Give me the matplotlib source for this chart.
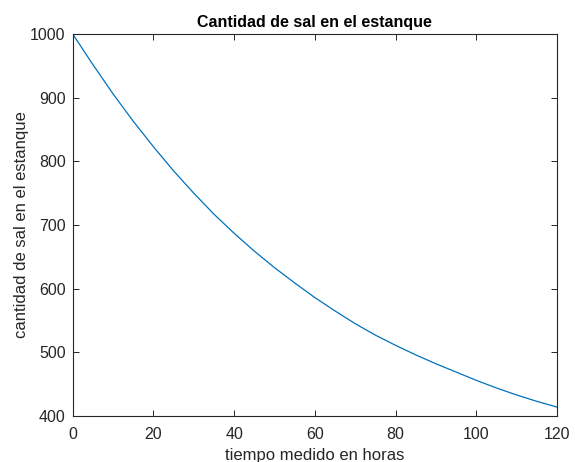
import matplotlib.pyplot as plt

# Tiempo (horas) y cantidad de sal
horas = [0, 5, 10, 15, 20, 25, 30, 35, 40, 45, 50, 55, 60,
         65, 70, 75, 80, 85, 90, 95, 100, 105, 110, 115, 120]
sal = [1000, 952, 906, 863, 823, 785, 750, 717, 687, 659, 633, 609, 586,
       565, 545, 527, 511, 496, 482, 469, 456, 444, 433, 423, 414]

x_ticks = [0, 20, 40, 60, 80, 100, 120]
y_ticks = [400, 500, 600, 700, 800, 900, 1000]

plt.rcParams['font.family'] = ['Liberation Sans', 'DejaVu Sans']
axis_color = '#262626'

fig = plt.figure(figsize=(5.75, 4.62), dpi=100)
ax = fig.add_axes([0.1264, 0.0996, 0.8423, 0.8268])

ax.plot(horas, sal, color='#0072BD', linewidth=0.9)

ax.set_xlim(0, 120)
ax.set_ylim(400, 1000)
ax.set_xticks(x_ticks)
ax.set_yticks(y_ticks)

ax.tick_params(direction='in', length=4, width=0.7, colors=axis_color,
               labelsize=11.5, top=True, right=True, pad=5)
ax.tick_params(axis='x', pad=8)
for side in ax.spines.values():
    side.set_color(axis_color)
    side.set_linewidth(0.8)

ax.set_title('Cantidad de sal en el estanque', fontsize=11.5, fontweight='bold',
             color='black', pad=5)
ax.set_xlabel('tiempo medido en horas', fontsize=12, color=axis_color, labelpad=4)
ax.set_ylabel('cantidad de sal en el estanque', fontsize=12, color=axis_color, labelpad=1)

fig.savefig('out.png', dpi=100)
